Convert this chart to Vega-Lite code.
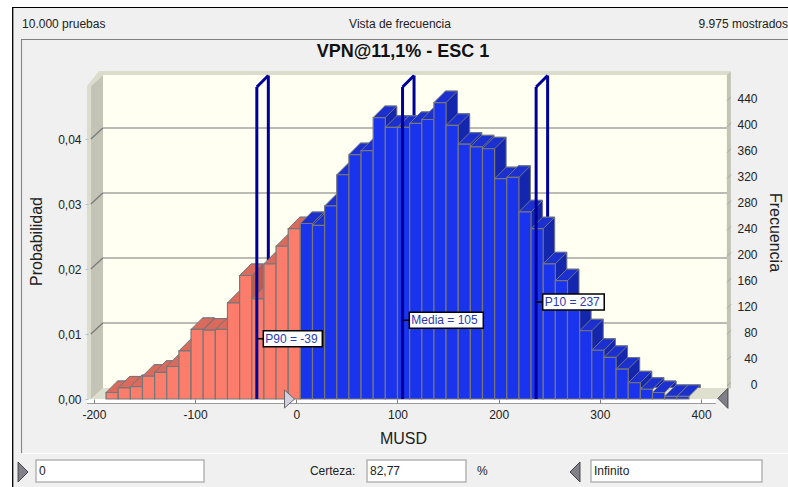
{
"$schema":"https://vega.github.io/schema/vega-lite/v6.json",
"width":788,"height":487,"padding":0,"autosize":"none","background":"#f0f0f0",
"config":{"view":{"stroke":null},"font":"Liberation Sans"},
"datasets":{
"bars":[
{"x0":-188,"x1":-176,"mid":-182,"base":0,"prob":0.0010},{"x0":-176,"x1":-164,"mid":-170,"base":0,"prob":0.0017},{"x0":-164,"x1":-152,"mid":-158,"base":0,"prob":0.0019},{"x0":-152,"x1":-140,"mid":-146,"base":0,"prob":0.0035},{"x0":-140,"x1":-128,"mid":-134,"base":0,"prob":0.0041},{"x0":-128,"x1":-116,"mid":-122,"base":0,"prob":0.0050},{"x0":-116,"x1":-104,"mid":-110,"base":0,"prob":0.0074},{"x0":-104,"x1":-92,"mid":-98,"base":0,"prob":0.0107},{"x0":-92,"x1":-80,"mid":-86,"base":0,"prob":0.0106},{"x0":-80,"x1":-68,"mid":-74,"base":0,"prob":0.0107},{"x0":-68,"x1":-56,"mid":-62,"base":0,"prob":0.0148},{"x0":-56,"x1":-44,"mid":-50,"base":0,"prob":0.0190},{"x0":-44,"x1":-32,"mid":-38,"base":0,"prob":0.0154},{"x0":-32,"x1":-20,"mid":-26,"base":0,"prob":0.0208},{"x0":-20,"x1":-8,"mid":-14,"base":0,"prob":0.0235},{"x0":-8,"x1":4,"mid":-2,"base":0,"prob":0.0262},
{"x0":4,"x1":16,"mid":10,"base":0,"prob":0.0270},{"x0":16,"x1":28,"mid":22,"base":0,"prob":0.0267},{"x0":28,"x1":40,"mid":34,"base":0,"prob":0.0297},{"x0":40,"x1":52,"mid":46,"base":0,"prob":0.0345},{"x0":52,"x1":64,"mid":58,"base":0,"prob":0.0376},{"x0":64,"x1":76,"mid":70,"base":0,"prob":0.0382},{"x0":76,"x1":88,"mid":82,"base":0,"prob":0.0433},{"x0":88,"x1":100,"mid":94,"base":0,"prob":0.0418},{"x0":100,"x1":112,"mid":106,"base":0,"prob":0.0418},{"x0":112,"x1":124,"mid":118,"base":0,"prob":0.0424},{"x0":124,"x1":136,"mid":130,"base":0,"prob":0.0430},{"x0":136,"x1":148,"mid":142,"base":0,"prob":0.0456},{"x0":148,"x1":160,"mid":154,"base":0,"prob":0.0421},{"x0":160,"x1":172,"mid":166,"base":0,"prob":0.0392},{"x0":172,"x1":184,"mid":178,"base":0,"prob":0.0388},{"x0":184,"x1":196,"mid":190,"base":0,"prob":0.0385},{"x0":196,"x1":208,"mid":202,"base":0,"prob":0.0339},{"x0":208,"x1":220,"mid":214,"base":0,"prob":0.0341},{"x0":220,"x1":232,"mid":226,"base":0,"prob":0.0288},{"x0":232,"x1":244,"mid":238,"base":0,"prob":0.0262},{"x0":244,"x1":256,"mid":250,"base":0,"prob":0.0208},{"x0":256,"x1":268,"mid":262,"base":0,"prob":0.0182},{"x0":268,"x1":280,"mid":274,"base":0,"prob":0.0137},{"x0":280,"x1":292,"mid":286,"base":0,"prob":0.0105},{"x0":292,"x1":304,"mid":298,"base":0,"prob":0.0075},{"x0":304,"x1":316,"mid":310,"base":0,"prob":0.0064},{"x0":316,"x1":328,"mid":322,"base":0,"prob":0.0046},{"x0":328,"x1":340,"mid":334,"base":0,"prob":0.0025},{"x0":340,"x1":352,"mid":346,"base":0,"prob":0.0015},{"x0":352,"x1":364,"mid":358,"base":0,"prob":0.0010},{"x0":364,"x1":376,"mid":370,"base":0,"prob":0.0004},{"x0":376,"x1":388,"mid":382,"base":0,"prob":0.0004}
],
"panels":[
{"part":"white","x0":-292.8,"x1":-280.9,"p0":-0.013538,"p1":0.061385},
{"part":"white","x0":-292.8,"x1":485.9,"p0":0.060308,"p1":0.061385},
{"part":"black","x0":-280.9,"x1":-279.6,"p0":-0.013538,"p1":0.060308},
{"part":"black","x0":-280.9,"x1":485.9,"p0":0.060154,"p1":0.060308},
{"part":"line","x0":-272,"x1":-271,"p0":-0.008308,"p1":0.055385},
{"part":"line","x0":-272,"x1":485.9,"p0":0.055231,"p1":0.055385},
{"part":"white","x0":-271,"x1":485.9,"p0":-0.008462,"p1":-0.008308},
{"part":"wall","x0":-191,"x1":425.5,"p0":0.001692,"p1":0.049846},
{"part":"white","x0":-206.8,"x1":414.7,"p0":-0.000615,"p1":0},
{"part":"line","x0":-206.8,"x1":414.7,"p0":-0.000715,"p1":-0.000615}
],
"boxes":[
{"x0":-257.2,"x1":-91.2,"p0":-0.012769,"p1":-0.009385},
{"x0":69.9,"x1":167.7,"p0":-0.012769,"p1":-0.009385},
{"x0":291.2,"x1":460.2,"p0":-0.012769,"p1":-0.009385}
],
"grid":[
{"prob":0.01,"x0":-191,"x1":425.5,"xs":-203},
{"prob":0.02,"x0":-191,"x1":425.5,"xs":-203},
{"prob":0.03,"x0":-191,"x1":425.5,"xs":-203},
{"prob":0.04,"x0":-191,"x1":425.5,"xs":-203}
],
"markers":[
{"name":"P90","value":-39,"base":0,"top":0.048},
{"name":"Media","value":105,"base":0,"top":0.048},
{"name":"P10","value":237,"base":0,"top":0.048}
],
"tags":[
{"label":"P90 = -39","v":-39,"x0":-32.6,"x1":25.7,"p0":0.008046,"p1":0.010508,"pm":0.009277},
{"label":"Media = 105","v":105,"x0":111.7,"x1":184.8,"p0":0.010877,"p1":0.013338,"pm":0.012108},
{"label":"P10 = 237","v":237,"x0":243.5,"x1":304.3,"p0":0.013692,"p1":0.016154,"pm":0.014923}
],
"freq":[{"f":0,"x":427.6},{"f":40,"x":427.6},{"f":80,"x":427.6},{"f":120,"x":427.6},{"f":160,"x":427.6},{"f":200,"x":427.6},{"f":240,"x":427.6},{"f":280,"x":427.6},{"f":320,"x":427.6},{"f":360,"x":427.6},{"f":400,"x":427.6},{"f":440,"x":427.6}]
},
"layer":[
{"data":{"name":"panels"},"mark":{"type":"rect"},
"encoding":{
"x":{"field":"x0","type":"quantitative","scale":{"domain":[-292.79,485.9],"nice":false,"zero":false},
"axis":{"orient":"bottom","offset":-88,"values":[-200,-100,0,100,200,300,400],"domain":false,"tickSize":4,"tickColor":"#808080","labelPadding":6,"labelFontSize":12,"labelColor":"#222222","labelExpr":"''+datum.value","grid":false,"zindex":1,"title":"MUSD","titleFontSize":16,"titleFontWeight":"normal","titleColor":"#222222","titleX":403,"titleY":31}},
"x2":{"field":"x1"},
"y":{"field":"p0","type":"quantitative","scale":{"domain":[-0.013538,0.061385],"nice":false,"zero":false},
"axis":{"orient":"left","offset":-88,"values":[0,0.01,0.02,0.03,0.04],"domain":false,"tickSize":3,"tickColor":"#a8c8d8","labelPadding":4,"labelFontSize":12,"labelColor":"#222222","labelExpr":"replace(format(datum.value,'.2f'),'.',',')","grid":false,"zindex":1,"title":"Probabilidad","titleFontSize":16,"titleFontWeight":"normal","titleColor":"#222222","titleAngle":-90,"titleX":-44,"titleY":241}},
"y2":{"field":"p1"},
"fill":{"field":"part","type":"nominal","legend":null,"scale":{"domain":["white","black","line","wall"],"range":["#ffffff","#000000","#808080","#fffff2"]}}
}},
{"layer":[
{"data":{"values":[{"x":-206.8,"p":0}]},"mark":{"type":"point","filled":true,"size":4,"opacity":1,"strokeWidth":0,"fill":"#dfdfd0","shape":"M4,0 L16,-11 L644,-11 L630,0 Z"},"encoding":{"x":{"field":"x","type":"quantitative","axis":null},"y":{"field":"p","type":"quantitative","axis":null,"scale":{"domain":[-0.013538,0.061385],"nice":false,"zero":false}}}},
{"data":{"values":[{"x":-206.8,"p":0}]},"mark":{"type":"point","filled":true,"size":4,"opacity":1,"strokeWidth":0,"fill":"#c4c4b6","shape":"M4,0 L4,-313 L16,-324 L16,-11 Z"},"encoding":{"x":{"field":"x","type":"quantitative","axis":null},"y":{"field":"p","type":"quantitative","axis":null}}},
{"data":{"values":[{"x":-206.8,"p":0}]},"mark":{"type":"point","filled":true,"size":4,"opacity":1,"strokeWidth":0,"fill":"#dcdccc","shape":"M0,0 L0,-313 L12,-328 L644,-328 L640,-324 L16,-324 L4,-313 L4,0 Z"},"encoding":{"x":{"field":"x","type":"quantitative","axis":null},"y":{"field":"p","type":"quantitative","axis":null}}},
{"data":{"values":[{"x":425.5,"p":0.001692}]},"mark":{"type":"point","filled":true,"size":4,"opacity":1,"strokeWidth":0,"fill":"#c4c4b6","shape":"M0,0 L0,-313 L4,-317 L4,0 Z"},"encoding":{"x":{"field":"x","type":"quantitative","axis":null},"y":{"field":"p","type":"quantitative","axis":null}}},
{"data":{"name":"grid"},"mark":{"type":"rule","color":"#787878","strokeWidth":1.2,"yOffset":-11},"encoding":{"x":{"field":"x0","type":"quantitative","axis":null},"x2":{"field":"x1"},"y":{"field":"prob","type":"quantitative","axis":null}}},
{"data":{"name":"grid"},"mark":{"type":"point","filled":false,"size":4,"opacity":1,"strokeWidth":1.2,"stroke":"#787878","shape":"M0,0 L12,-11"},"encoding":{"x":{"field":"xs","type":"quantitative","axis":null},"y":{"field":"prob","type":"quantitative","axis":null}}},
{"data":{"name":"markers"},"mark":{"type":"rule","color":"#000099","strokeWidth":3,"xOffset":11.5,"yOffset":-11.5,"y2Offset":-11.5},"encoding":{"x":{"field":"value","type":"quantitative","axis":null},"y":{"field":"base","type":"quantitative","axis":null},"y2":{"field":"top"}}},
{"data":{"name":"markers"},"mark":{"type":"point","filled":false,"size":4,"opacity":1,"strokeWidth":3,"stroke":"#000099","shape":"M0,0 L11.5,-11.5"},"encoding":{"x":{"field":"value","type":"quantitative","axis":null},"y":{"field":"top","type":"quantitative","axis":null}}},
{"data":{"name":"bars"},"mark":{"type":"rect","xOffset":11.5,"x2Offset":11.5,"yOffset":-11.5,"y2Offset":-11.5,"stroke":"#6f7680","strokeWidth":1},
"encoding":{"x":{"field":"x0","type":"quantitative","axis":null},"x2":{"field":"x1"},"y":{"field":"prob","type":"quantitative","axis":null},"y2":{"field":"base"},"fill":{"condition":{"test":"datum.x0<0","value":"#c05a4c"},"value":"#1526ae"}}},
{"data":{"name":"bars"},"mark":{"type":"point","filled":true,"size":4,"opacity":1,"strokeWidth":1,"stroke":"#6f7680","shape":"M-6.07,0 L6.07,0 L17.57,-11.5 L5.43,-11.5 Z"},
"encoding":{"x":{"field":"mid","type":"quantitative","axis":null},"y":{"field":"prob","type":"quantitative","axis":null},"fill":{"condition":{"test":"datum.x0<0","value":"#d96a5c"},"value":"#1c30cf"}}},
{"data":{"name":"bars"},"mark":{"type":"rect","stroke":"#777777","strokeWidth":1.2},
"encoding":{"x":{"field":"x0","type":"quantitative","axis":null},"x2":{"field":"x1"},"y":{"field":"prob","type":"quantitative","axis":null},"y2":{"field":"base"},"fill":{"condition":{"test":"datum.x0<0","value":"#fd7d6c"},"value":"#1a33ec"}}},
{"data":{"name":"markers"},"mark":{"type":"rule","color":"#000099","strokeWidth":3},"encoding":{"x":{"field":"value","type":"quantitative","axis":null},"y":{"field":"base","type":"quantitative","axis":null},"y2":{"field":"top"}}},
{"data":{"name":"tags"},"mark":{"type":"rule","color":"#000000","strokeWidth":1.5},"encoding":{"x":{"field":"v","type":"quantitative","axis":null},"x2":{"field":"x0"},"y":{"field":"pm","type":"quantitative","axis":null}}},
{"data":{"name":"tags"},"mark":{"type":"rect","fill":"#ffffff","stroke":"#000000","strokeWidth":1.5},"encoding":{"x":{"field":"x0","type":"quantitative","axis":null},"x2":{"field":"x1"},"y":{"field":"p0","type":"quantitative","axis":null},"y2":{"field":"p1"}}},
{"data":{"name":"tags"},"mark":{"type":"text","align":"left","baseline":"middle","dx":2,"fontSize":12,"color":"#2a3ab0"},"encoding":{"x":{"field":"x0","type":"quantitative","axis":null},"y":{"field":"pm","type":"quantitative","axis":null},"text":{"field":"label"}}},
{"data":{"name":"boxes"},"mark":{"type":"rect","fill":"#ffffff","stroke":"#b4b4b4","strokeWidth":1.5},"encoding":{"x":{"field":"x0","type":"quantitative","axis":null},"x2":{"field":"x1"},"y":{"field":"p0","type":"quantitative","axis":null},"y2":{"field":"p1"}}},
{"data":{"values":[{"x":-6.7,"p":0}]},"mark":{"type":"point","filled":true,"size":4,"opacity":1,"strokeWidth":1,"stroke":"#666666","fill":"#d0d0e0","shape":"M-5,-9 L5,0 L-5,9 Z"},"encoding":{"x":{"field":"x","type":"quantitative","axis":null},"y":{"field":"p","type":"quantitative","axis":null}}},
{"data":{"values":[{"x":-270,"p":-0.01123}]},"mark":{"type":"point","filled":true,"size":4,"opacity":1,"strokeWidth":1,"stroke":"#444444","fill":"#808088","shape":"M-5,-10 L5,0 L-5,10 Z"},"encoding":{"x":{"field":"x","type":"quantitative","axis":null},"y":{"field":"p","type":"quantitative","axis":null}}},
{"data":{"values":[{"x":421.6,"p":0.0001},{"x":275.4,"p":-0.01123}]},"mark":{"type":"point","filled":true,"size":4,"opacity":1,"strokeWidth":1,"stroke":"#444444","fill":"#808088","shape":"M5,-10 L-5,0 L5,10 Z"},"encoding":{"x":{"field":"x","type":"quantitative","axis":null},"y":{"field":"p","type":"quantitative","axis":null}}},
{"data":{"values":[{"t":"10.000 pruebas","x":-271,"p":0.057692},{"t":"0","x":-254.2,"p":-0.011077},{"t":"Certeza:","x":13.5,"p":-0.011077},{"t":"82,77","x":72.8,"p":-0.011077},{"t":"%","x":178.6,"p":-0.011077},{"t":"Infinito","x":294.2,"p":-0.011077}]},"mark":{"type":"text","align":"left","baseline":"middle","fontSize":12,"color":"#222222"},"encoding":{"x":{"field":"x","type":"quantitative","axis":null},"y":{"field":"p","type":"quantitative","axis":null},"text":{"field":"t"}}},
{"data":{"values":[{"t":"Vista de frecuencia","x":102.5,"p":0.057692}]},"mark":{"type":"text","align":"center","baseline":"middle","fontSize":12,"color":"#222222"},"encoding":{"x":{"field":"x","type":"quantitative","axis":null},"y":{"field":"p","type":"quantitative","axis":null},"text":{"field":"t"}}},
{"data":{"values":[{"t":"9.975 mostrados","x":485.9,"p":0.057692}]},"mark":{"type":"text","align":"right","baseline":"middle","fontSize":12,"color":"#222222"},"encoding":{"x":{"field":"x","type":"quantitative","axis":null},"y":{"field":"p","type":"quantitative","axis":null},"text":{"field":"t"}}},
{"data":{"values":[{"t":"VPN@11,1% - ESC 1","x":105.4,"p":0.053385}]},"mark":{"type":"text","align":"center","baseline":"middle","fontSize":18,"fontWeight":"bold","color":"#111111"},"encoding":{"x":{"field":"x","type":"quantitative","axis":null},"y":{"field":"p","type":"quantitative","axis":null},"text":{"field":"t"}}}
]},
{"data":{"name":"freq"},"mark":{"type":"point","filled":false,"size":4,"opacity":1,"strokeWidth":1,"stroke":"#a8a89a","shape":"M-2,2 L2,-2"},
"encoding":{
"x":{"field":"x","type":"quantitative","axis":null},
"y":{"field":"f","type":"quantitative","scale":{"domain":[-158.95,592.6],"nice":false,"zero":false},
"axis":{"orient":"right","offset":-56,"values":[0,40,80,120,160,200,240,280,320,360,400,440],"domain":false,"ticks":false,"labelAlign":"right","labelPadding":25,"labelFontSize":12,"labelColor":"#222222","grid":false,"zindex":1,"title":"Frecuencia","titleFontSize":16,"titleFontWeight":"normal","titleColor":"#222222","titleAngle":90,"titleX":34,"titleY":232}}
}}
],
"resolve":{"scale":{"y":"independent"},"axis":{"x":"independent","y":"independent"}}
}
